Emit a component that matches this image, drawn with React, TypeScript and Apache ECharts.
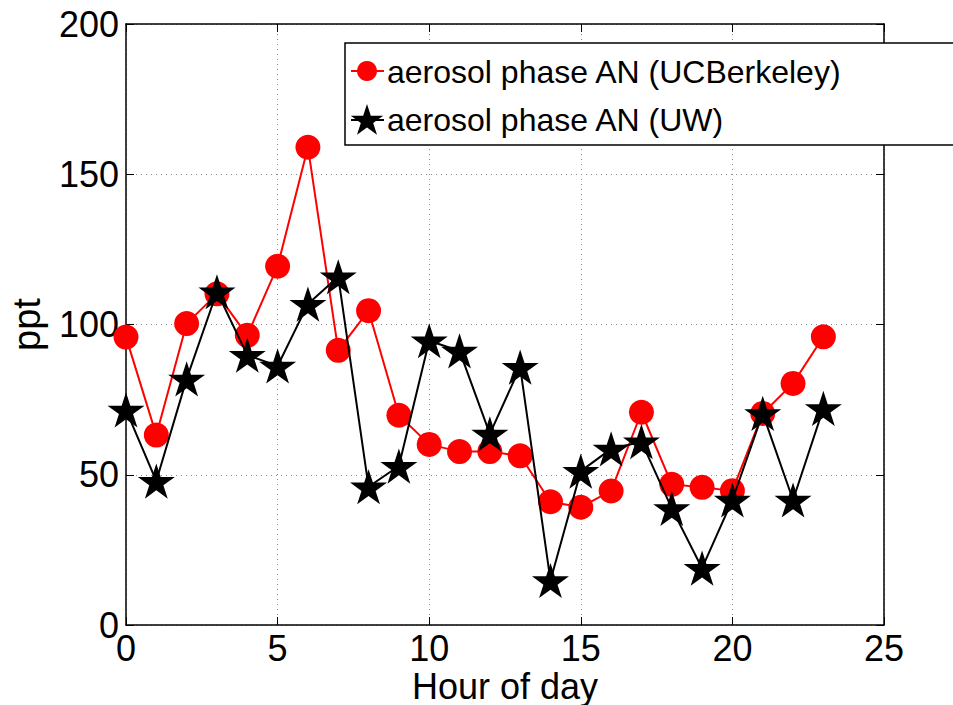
import React, { useEffect, useRef } from "react";
import * as echarts from "echarts";

const hours = [0, 1, 2, 3, 4, 5, 6, 7, 8, 9, 10, 11, 12, 13, 14, 15, 16, 17, 18, 19, 20, 21, 22, 23];
const ucBerkeley = [95.8, 63.2, 100.3, 110.2, 96.4, 119.4, 159.0, 91.4, 104.6, 69.8, 60.1, 57.7, 57.7, 56.3, 41.0, 39.2, 44.6, 70.8, 46.8, 45.8, 44.7, 70.4, 80.4, 95.9];
const uw = [71.6, 47.9, 81.9, 110.9, 89.8, 86.2, 106.8, 115.9, 46.0, 52.9, 94.6, 91.2, 63.6, 85.8, 14.8, 51.2, 58.6, 61.0, 38.8, 18.9, 41.6, 70.4, 41.6, 72.1];
const seriesNames = ["aerosol phase AN (UCBerkeley)", "aerosol phase AN (UW)"];
const xTicks = { min: 0, max: 25, interval: 5 };
const yTicks = { min: 0, max: 200, interval: 50 };

const STAR =
  "path://M0,-1L0.2245,-0.309L0.951,-0.309L0.3633,0.118L0.5878,0.809L0,0.382L-0.5878,0.809L-0.3633,0.118L-0.951,-0.309L-0.2245,-0.309Z";

function starPoints(cx: number, cy: number, R: number): number[][] {
  const pts: number[][] = [];
  for (let k = 0; k < 10; k++) {
    const r = k % 2 === 0 ? R : R * 0.382;
    const a = ((-90 + k * 36) * Math.PI) / 180;
    pts.push([cx + r * Math.cos(a), cy + r * Math.sin(a)]);
  }
  return pts;
}

const FONT = "Liberation Sans, Arial, Helvetica, sans-serif";

export default function App() {
  const ref = useRef<HTMLDivElement>(null);
  useEffect(() => {
    if (!ref.current) return;
    const chart = echarts.init(ref.current, undefined, { renderer: "svg" });
    const axisCommon = {
      axisLine: { show: true, onZero: false, lineStyle: { color: "#000", width: 1.5 } },
      axisTick: { show: true, inside: true, length: 8, lineStyle: { color: "#000", width: 1 } },
    };
    const splitLine = { show: true, lineStyle: { color: "#8a8a8a", type: [1, 4] as any, width: 1 } };
    const labelStyle = { color: "#000", fontSize: 36, fontFamily: FONT };
    chart.setOption({
      animation: false,
      backgroundColor: "#fff",
      grid: { left: 126, right: 69, top: 24, bottom: 80, containLabel: false, outerBoundsMode: "none" },
      xAxis: [
        {
          type: "value",
          ...xTicks,
          position: "bottom",
          ...axisCommon,
          splitLine,
          axisLabel: { ...labelStyle, lineHeight: 28, margin: 9 },
          name: "Hour of day",
          nameLocation: "middle",
          nameGap: 46,
          nameMoveOverlap: false,
          nameTextStyle: { color: "#000", fontSize: 36, lineHeight: 30, fontFamily: FONT },
        },
        {
          type: "value",
          ...xTicks,
          position: "top",
          ...axisCommon,
          splitLine: { show: false },
          axisLabel: { show: false },
        },
      ],
      yAxis: [
        {
          type: "value",
          ...yTicks,
          position: "left",
          ...axisCommon,
          splitLine,
          axisLabel: { ...labelStyle, margin: 7 },
          name: "ppt",
          nameLocation: "middle",
          nameGap: 80,
          nameMoveOverlap: false,
          nameTextStyle: { color: "#000", fontSize: 38, fontFamily: FONT },
        },
        {
          type: "value",
          ...yTicks,
          position: "right",
          ...axisCommon,
          splitLine: { show: false },
          axisLabel: { show: false },
        },
      ],
      series: [
        {
          name: seriesNames[0],
          type: "line",
          data: hours.map((h, i) => [h, ucBerkeley[i]]),
          symbol: "circle",
          symbolSize: 25,
          lineStyle: { color: "#ff0000", width: 2 },
          itemStyle: { color: "#ff0000" },
          z: 2,
        },
        {
          name: seriesNames[1],
          type: "line",
          data: hours.map((h, i) => [h, uw[i]]),
          symbol: STAR,
          symbolSize: 37,
          symbolKeepAspect: true,
          lineStyle: { color: "#000", width: 2 },
          itemStyle: { color: "#000" },
          z: 3,
        },
      ],
      graphic: [
        {
          type: "rect",
          shape: { x: 345, y: 43, width: 640, height: 102 },
          style: { fill: "#fff", stroke: "#000", lineWidth: 1.5 },
          z: 100,
        },
        {
          type: "line",
          shape: { x1: 351, y1: 71, x2: 384, y2: 71 },
          style: { stroke: "#ff0000", lineWidth: 2 },
          z: 101,
        },
        {
          type: "circle",
          shape: { cx: 367, cy: 71, r: 10 },
          style: { fill: "#ff0000" },
          z: 102,
        },
        {
          type: "text",
          x: 387,
          y: 72,
          style: { text: seriesNames[0], fill: "#000", fontSize: 32, fontFamily: FONT, verticalAlign: "middle" },
          z: 102,
        },
        {
          type: "line",
          shape: { x1: 351, y1: 120, x2: 384, y2: 120 },
          style: { stroke: "#000", lineWidth: 2 },
          z: 101,
        },
        {
          type: "polygon",
          shape: { points: starPoints(367, 121, 17) },
          style: { fill: "#000" },
          z: 102,
        },
        {
          type: "text",
          x: 387,
          y: 120,
          style: { text: seriesNames[1], fill: "#000", fontSize: 32, fontFamily: FONT, verticalAlign: "middle" },
          z: 102,
        },
      ],
    });
    return () => chart.dispose();
  }, []);
  return (
    <div
      ref={ref}
      style={{ position: "absolute", left: 0, top: 0, width: 953, height: 705, background: "#fff" }}
    />
  );
}
